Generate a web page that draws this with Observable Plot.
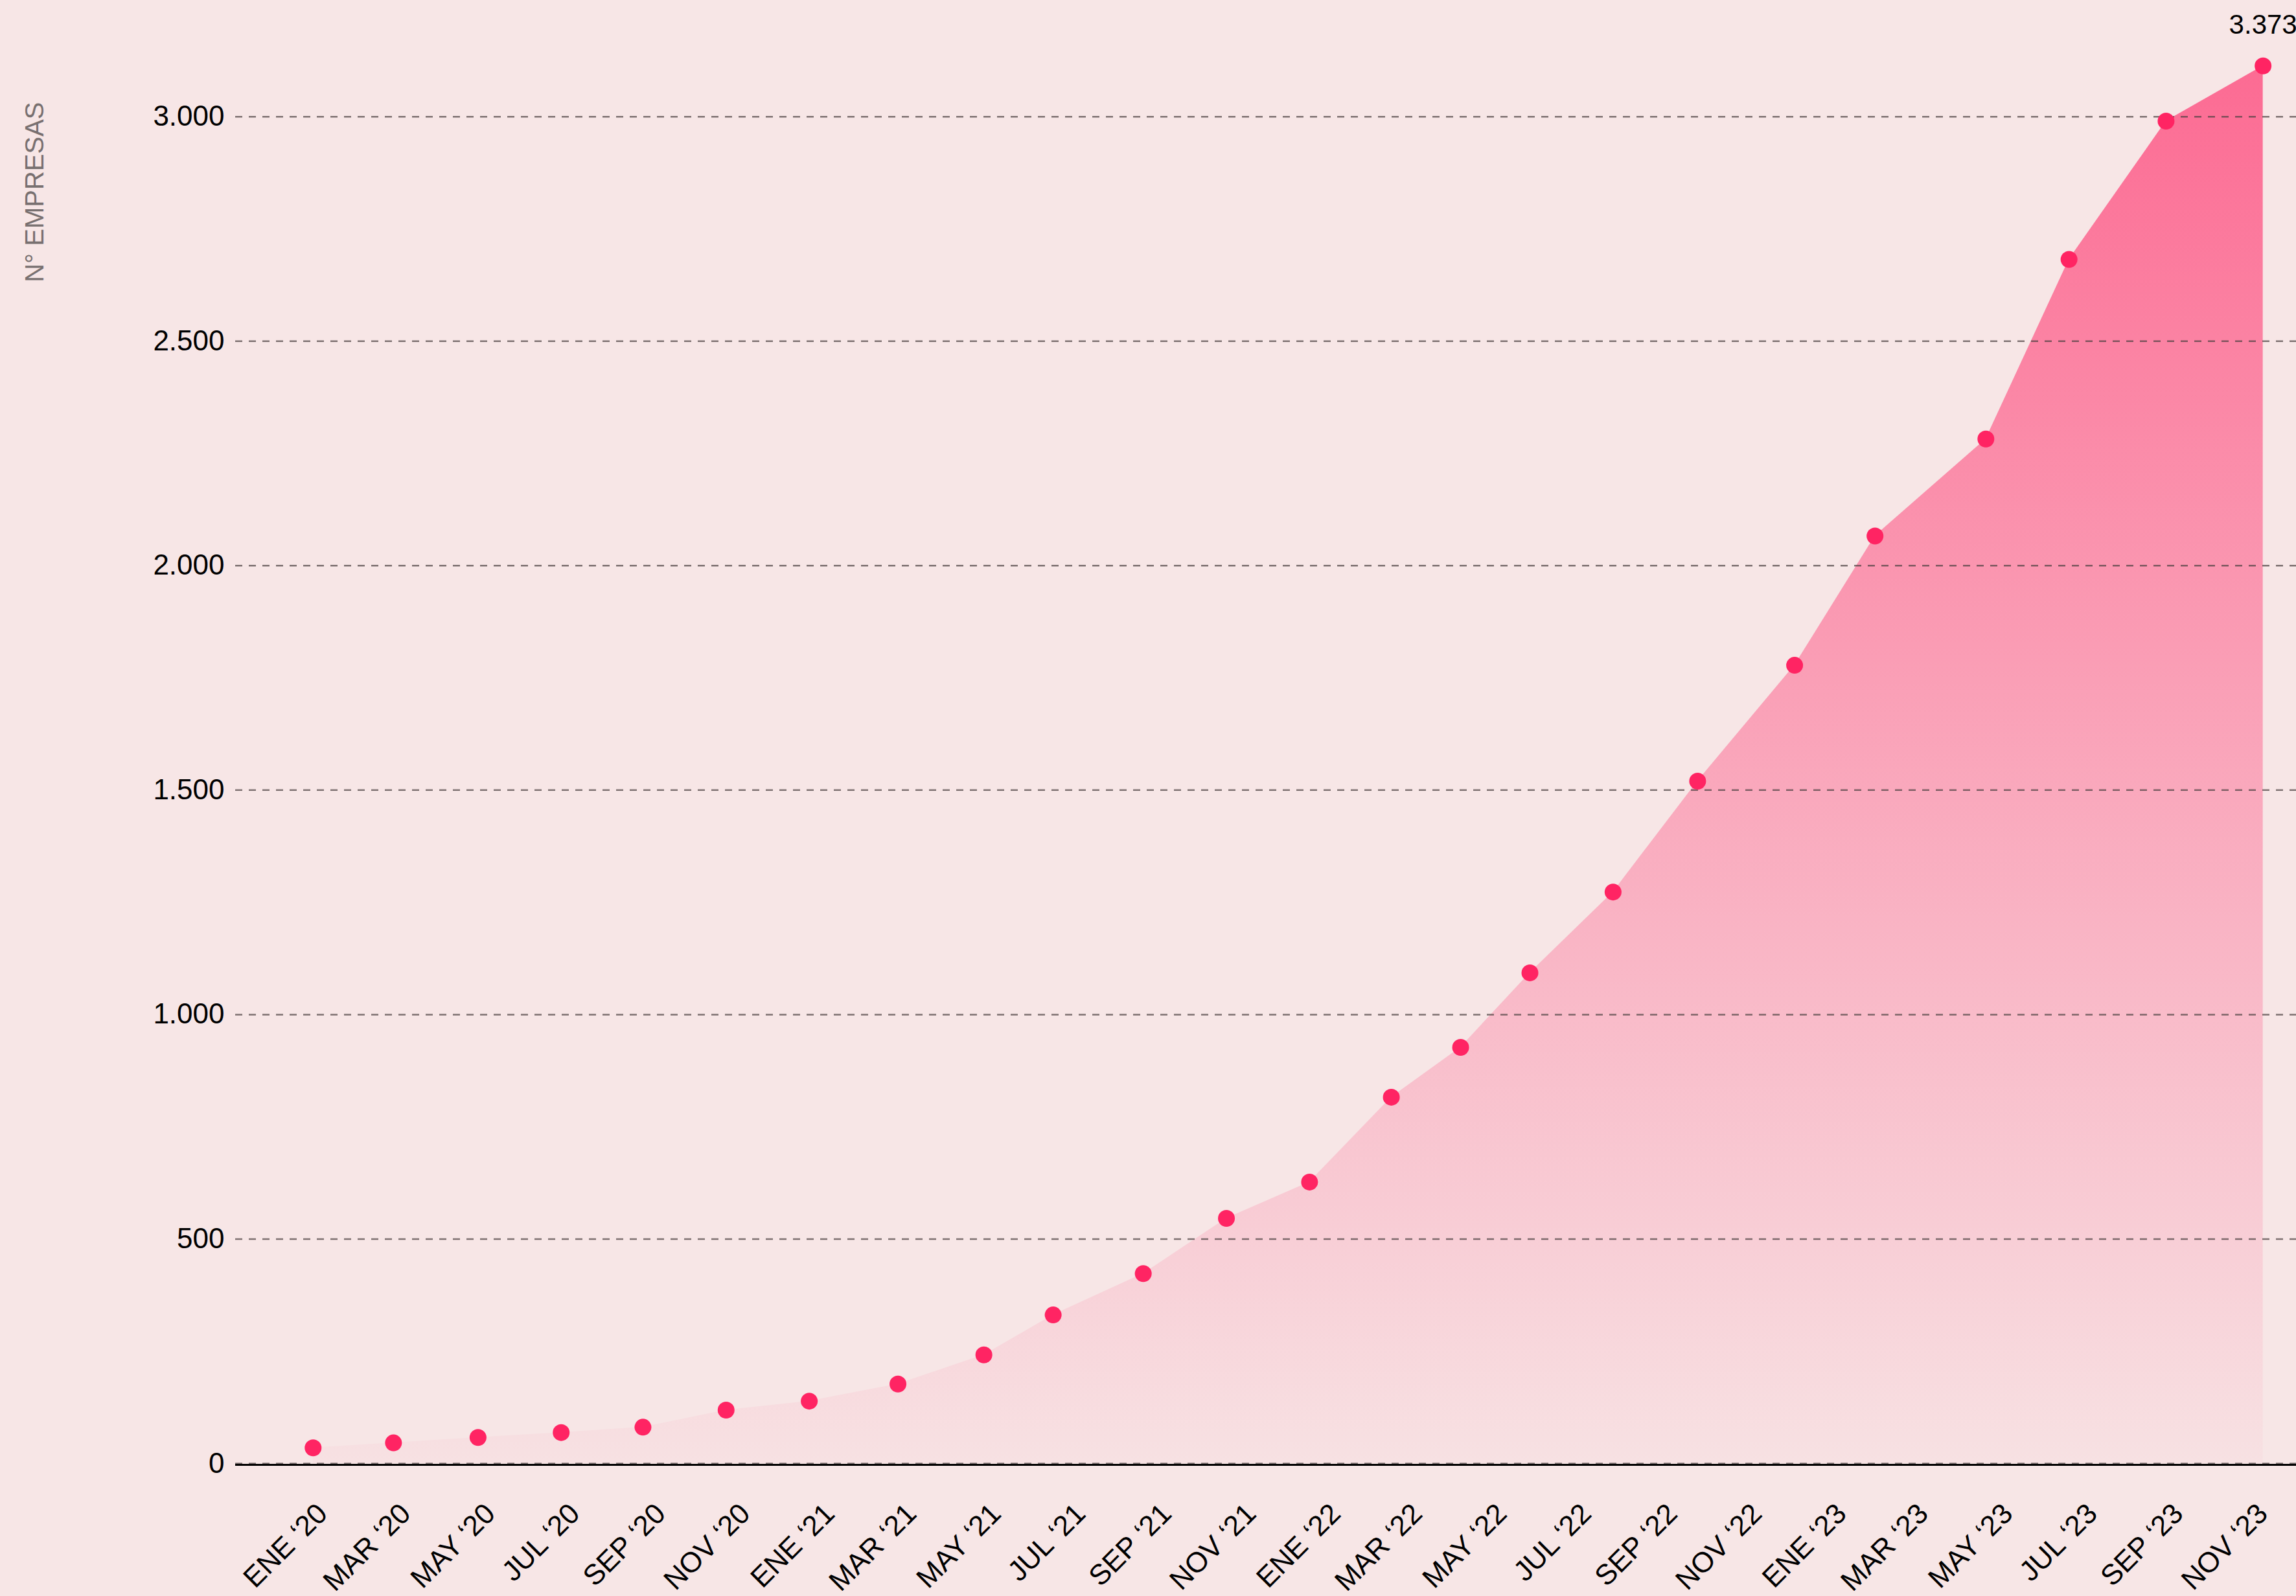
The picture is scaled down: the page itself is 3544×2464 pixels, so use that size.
<!DOCTYPE html>
<html><head><meta charset="utf-8">
<script src="https://cdn.jsdelivr.net/npm/d3@7"></script>
<script src="https://cdn.jsdelivr.net/npm/@observablehq/plot@0.6"></script>
<style>
html,body{margin:0;padding:0;background:#f7e6e6;overflow:hidden;}
#chart{width:3544px;height:2464px;}
</style></head><body><div id="chart"></div>
<script>
const dates = ["2019-12-20","2020-02-16","2020-04-17","2020-06-16","2020-08-14","2020-10-13","2020-12-12","2021-02-14","2021-04-17","2021-06-06","2021-08-10","2021-10-09","2021-12-08","2022-02-05","2022-03-27","2022-05-16","2022-07-15","2022-09-14","2022-11-23","2023-01-20","2023-04-10","2023-06-09","2023-08-18","2023-10-27"];
const values = [35,46,58,69,81,119,139,177,242,331,423,546,627,816,927,1093,1273,1520,1778,2066,2282,2682,2990,3113];
const tickDates = ["2020-01-01","2020-03-01","2020-05-01","2020-07-01","2020-09-01","2020-11-01","2021-01-01","2021-03-01","2021-05-01","2021-07-01","2021-09-01","2021-11-01","2022-01-01","2022-03-01","2022-05-01","2022-07-01","2022-09-01","2022-11-01","2023-01-01","2023-03-01","2023-05-01","2023-07-01","2023-09-01","2023-11-01"];
const tickLabels = ["ENE ‘20","MAR ‘20","MAY ‘20","JUL ‘20","SEP ‘20","NOV ‘20","ENE ‘21","MAR ‘21","MAY ‘21","JUL ‘21","SEP ‘21","NOV ‘21","ENE ‘22","MAR ‘22","MAY ‘22","JUL ‘22","SEP ‘22","NOV ‘22","ENE ‘23","MAR ‘23","MAY ‘23","JUL ‘23","SEP ‘23","NOV ‘23"];
const yTicks = [0,500,1000,1500,2000,2500,3000];
const yTitle = "N° EMPRESAS";
const lastLabel = "3.373";

const data = dates.map((d,i)=>({date: new Date(d), value: values[i]}));
const tickDateObjs = tickDates.map(d=>new Date(d));
const labelByTime = new Map(tickDateObjs.map((d,i)=>[+d, tickLabels[i]]));
const fmt = d3.formatLocale({decimal:",", thousands:".", grouping:[3], currency:["","€"]}).format(",");

const chart = Plot.plot({
  width: 3544, height: 2464,
  marginTop: 41, marginBottom: 205, marginLeft: 363, marginRight: 0,
  style: {background: "#f7e6e6", fontFamily: "'Liberation Sans', Arial, sans-serif", fontSize: "44px", color: "#000", overflow: "hidden"},
  x: {type: "utc", domain: [new Date("2019-10-25"), new Date("2023-11-20")], ticks: tickDateObjs, tickFormat: d => labelByTime.get(+d), tickRotate: -45, tickSize: 0, tickPadding: 70, label: null},
  y: {domain: [0, 3200], ticks: yTicks, tickFormat: fmt, tickSize: 0, tickPadding: 17, label: null},
  marks: [
    Plot.areaY(data, {x: "date", y: "value", fill: "url(#areaGrad)"}),
    Plot.ruleY(yTicks, {stroke: "#4a4040", strokeOpacity: 0.7, strokeWidth: 2.5, strokeDasharray: "11,10"}),
    Plot.ruleY([0], {stroke: "#000", strokeWidth: 3, dy: 2}),
    Plot.dot(data, {x: "date", y: "value", r: 13, fill: "#ff2463"}),
    Plot.text(data.slice(-1), {x: "date", y: "value", text: () => lastLabel, dy: -63, fontSize: 42, fill: "#000"}),
    Plot.text([yTitle], {text: d => d, frameAnchor: "top-left", rotate: -90, textAnchor: "end", lineAnchor: "middle", dx: -309, dy: 116, fontSize: 40, fill: "#787070", fontFamily: "'Liberation Sans', Arial, sans-serif"})
  ]
});
document.getElementById("chart").appendChild(chart);
const svgEl = chart.tagName.toLowerCase() === "svg" ? chart : chart.querySelector("svg");
const defs = d3.select(svgEl).insert("defs", ":first-child");
const grad = defs.append("linearGradient").attr("id","areaGrad").attr("x1",0).attr("y1",0).attr("x2",0).attr("y2",1);
grad.append("stop").attr("offset","0%").attr("stop-color","#fc6b93").attr("stop-opacity",1);
grad.append("stop").attr("offset","100%").attr("stop-color","#fc6b93").attr("stop-opacity",0.04);
const xAxis = d3.select(svgEl).selectAll('g[aria-label^="x-axis"]');
xAxis.selectAll("text").attr("font-size", 44);
xAxis.attr("transform", function() { return "translate(-11,0) " + (this.getAttribute("transform") || ""); });
</script></body></html>
